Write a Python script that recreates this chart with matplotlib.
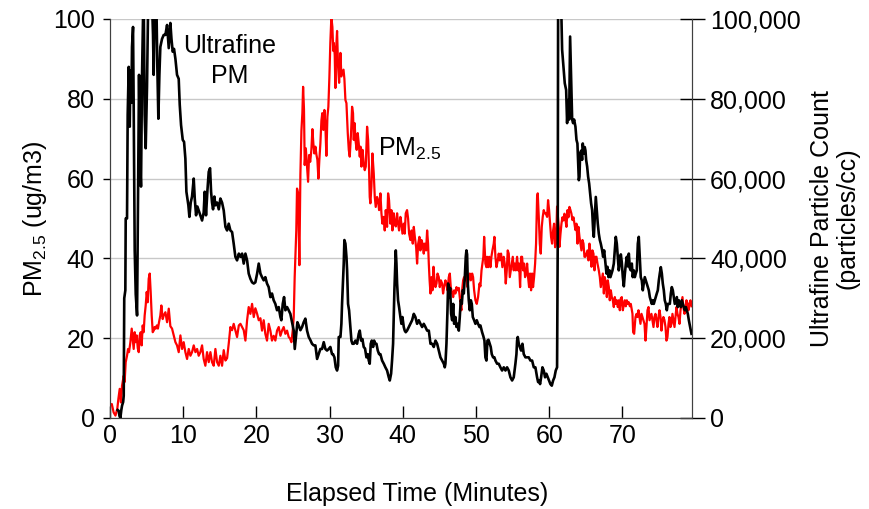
import numpy as np
import matplotlib
matplotlib.use("Agg")
import matplotlib.pyplot as plt

plt.rcParams["font.family"] = ["Liberation Sans", "DejaVu Sans"]
plt.rcParams["mathtext.default"] = "regular"

# PM2.5 (ug/m3)
pm_time = [
    0.0, 0.25, 0.5, 0.75, 1.0, 1.15, 1.33, 1.5, 1.65, 1.88, 2.0, 2.15, 2.33, 2.47, 2.6,
    2.79, 2.97, 3.1, 3.24, 3.38, 3.5, 3.65, 3.8, 3.93, 4.06, 4.2, 4.33, 4.47, 4.6, 4.74,
    4.88, 5.02, 5.15, 5.29, 5.43, 5.56, 5.7, 5.84, 6.0, 6.1, 6.25, 6.4, 6.55, 6.7, 6.88,
    7.02, 7.2, 7.34, 7.57, 7.8, 8.03, 8.25, 8.48, 8.71, 8.94, 9.16, 9.39, 9.62, 9.85, 10.07,
    10.3, 10.53, 10.76, 10.99, 11.21, 11.44, 11.67, 11.9, 12.12, 12.35, 12.58, 12.8, 13.03,
    13.26, 13.49, 13.72, 13.94, 14.17, 14.4, 14.63, 14.86, 15.08, 15.31, 15.54, 15.77, 16.0,
    16.22, 16.45, 16.68, 16.9, 17.13, 17.36, 17.6, 17.82, 18.05, 18.27, 18.5, 18.73, 18.95,
    19.18, 19.41, 19.64, 19.86, 20.1, 20.32, 20.55, 20.77, 21.0, 21.22, 21.45, 21.68, 21.91,
    22.13, 22.36, 22.59, 22.82, 23.05, 23.28, 23.5, 23.73, 23.96, 24.19, 24.41, 24.6, 24.78,
    24.96, 25.1, 25.23, 25.32, 25.45, 25.55, 25.7, 25.87, 26.01, 26.15, 26.28, 26.38, 26.5,
    26.6, 26.75, 26.9, 27.06, 27.2, 27.35, 27.51, 27.65, 27.78, 27.92, 28.06, 28.2, 28.33,
    28.47, 28.6, 28.74, 28.88, 29.0, 29.15, 29.29, 29.42, 29.56, 29.7, 29.83, 29.97, 30.1,
    30.24, 30.38, 30.5, 30.57, 30.7, 30.79, 30.88, 31.02, 31.16, 31.3, 31.48, 31.61, 31.75,
    31.9, 32.02, 32.16, 32.3, 32.48, 32.62, 32.75, 32.93, 33.07, 33.2, 33.3, 33.42, 33.53,
    33.7, 33.84, 33.98, 34.12, 34.22, 34.35, 34.5, 34.66, 34.8, 34.94, 35.12, 35.26, 35.39,
    35.48, 35.57, 35.71, 35.85, 36.03, 36.17, 36.3, 36.48, 36.62, 36.76, 36.94, 37.08, 37.21,
    37.4, 37.53, 37.67, 37.85, 37.99, 38.12, 38.3, 38.44, 38.58, 38.76, 38.9, 39.04, 39.22,
    39.35, 39.49, 39.67, 39.81, 39.95, 40.13, 40.26, 40.4, 40.58, 40.72, 40.86, 41.04, 41.2,
    41.36, 41.5, 41.64, 41.82, 41.95, 42.1, 42.27, 42.4, 42.55, 42.7, 42.86, 43.0, 43.18,
    43.32, 43.45, 43.55, 43.66, 43.78, 43.92, 44.05, 44.19, 44.32, 44.46, 44.6, 44.74, 44.91,
    45.05, 45.2, 45.37, 45.5, 45.64, 45.82, 45.96, 46.1, 46.28, 46.42, 46.55, 46.74, 46.88,
    47.01, 47.19, 47.33, 47.47, 47.65, 47.78, 47.92, 48.01, 48.1, 48.24, 48.37, 48.55, 48.69,
    48.83, 49.01, 49.15, 49.29, 49.47, 49.6, 49.74, 49.92, 50.1, 50.28, 50.47, 50.6, 50.75,
    50.87, 51.0, 51.11, 51.28, 51.42, 51.51, 51.65, 51.8, 51.97, 52.1, 52.24, 52.42, 52.51,
    52.65, 52.79, 52.97, 53.1, 53.24, 53.42, 53.6, 53.78, 53.92, 54.06, 54.2, 54.33, 54.47,
    54.61, 54.75, 54.88, 55.02, 55.15, 55.29, 55.43, 55.61, 55.75, 55.88, 56.02, 56.16, 56.29,
    56.43, 56.57, 56.7, 56.84, 56.98, 57.11, 57.25, 57.38, 57.52, 57.66, 57.79, 57.93, 58.07,
    58.2, 58.34, 58.43, 58.57, 58.71, 58.84, 58.98, 59.11, 59.25, 59.39, 59.52, 59.71, 59.84,
    59.98, 60.12, 60.25, 60.39, 60.53, 60.66, 60.8, 60.94, 61.07, 61.2, 61.3, 61.4, 61.53,
    61.67, 61.8, 61.94, 62.08, 62.22, 62.35, 62.49, 62.62, 62.76, 62.9, 63.03, 63.17, 63.31,
    63.44, 63.58, 63.72, 63.86, 63.99, 64.13, 64.27, 64.4, 64.54, 64.68, 64.81, 64.95, 65.08,
    65.22, 65.36, 65.49, 65.63, 65.77, 65.9, 66.04, 66.18, 66.32, 66.45, 66.59, 66.77, 66.91,
    67.04, 67.18, 67.32, 67.46, 67.59, 67.73, 67.87, 68.0, 68.14, 68.27, 68.41, 68.55, 68.68,
    68.82, 68.96, 69.09, 69.23, 69.37, 69.5, 69.64, 69.78, 69.91, 70.05, 70.2, 70.33, 70.46,
    70.6, 70.74, 70.87, 71.01, 71.14, 71.28, 71.37, 71.46, 71.6, 71.78, 71.92, 72.05, 72.19,
    72.32, 72.46, 72.6, 72.73, 72.87, 73.01, 73.15, 73.28, 73.42, 73.56, 73.7, 73.83, 73.96,
    74.1, 74.24, 74.37, 74.51, 74.65, 74.78, 74.92, 75.06, 75.2, 75.33, 75.47, 75.6, 75.74,
    75.88, 76.01, 76.15, 76.29, 76.42, 76.56, 76.7, 76.83, 76.97, 77.11, 77.24, 77.38, 77.52,
    77.65, 77.79, 77.93, 78.06, 78.2, 78.33, 78.47, 78.61, 78.74, 78.88, 79.02, 79.15, 79.29,
    79.43,
]
pm_vals = [
    3.0, 3.5, 1.4, 0.6, 2.3, 4.8, 7.3, 3.9, 8.1, 10.6, 9.0, 14.0, 15.6, 17.3, 16.5,
    19.0, 22.4, 19.8, 17.3, 21.5, 19.0, 20.7, 17.5, 16.5, 20.7, 21.5, 18.2, 23.2, 21.5, 25.7,
    28.2, 31.6, 29.0, 34.9, 36.2, 31.6, 25.7, 21.5, 22.0, 22.8, 22.4, 23.2, 22.4, 24.0, 25.7,
    28.2, 24.8, 25.7, 26.5, 24.0, 27.4, 23.0, 22.4, 20.7, 19.0, 18.2, 16.5, 20.7, 17.3, 19.0,
    16.5, 14.8, 17.3, 15.6, 16.5, 18.2, 16.5, 17.3, 15.6, 16.5, 18.2, 14.8, 13.1,
    16.5, 14.0, 16.5, 14.0, 13.1, 17.3, 14.0, 13.1, 15.6, 13.1, 17.0, 14.4, 15.0,
    18.6, 22.8, 22.0, 23.6, 22.0, 20.3, 23.2, 23.6, 22.8, 22.0, 19.4, 24.5, 27.8,
    26.1, 28.6, 25.3, 27.5, 26.1, 24.5, 25.0, 21.9, 24.5, 21.1, 19.4, 23.6, 21.9,
    19.4, 20.6, 19.4, 21.9, 22.8, 20.6, 21.9, 22.8, 21.1, 21.9, 20.3, 19.9, 19.0,
    21.9, 25.3, 35.3, 40.4, 47.0, 57.5, 56.3, 38.3, 61.0, 72.0, 76.4, 83.0, 77.4,
    63.4, 67.6, 63.4, 59.2, 65.9, 64.2, 67.2, 72.4, 68.8, 66.3, 68.0, 66.0, 64.7,
    60.0, 64.7, 68.8, 74.5, 76.4, 72.2, 77.2, 73.4, 65.7, 75.5, 78.0, 85.4, 94.0,
    100.5, 98.0, 92.0, 94.0, 91.0, 82.7, 92.0, 97.0, 88.0, 84.0, 91.5, 85.6, 86.4,
    87.3, 85.0, 79.7, 78.9, 71.4, 67.2, 65.5, 71.4, 78.0, 76.4, 69.7, 73.9, 69.7,
    67.2, 71.4, 68.8, 65.5, 68.0, 63.0, 67.2, 63.8, 62.1, 63.0, 73.0, 69.7, 62.1,
    55.4, 53.8, 58.0, 66.3, 61.3, 55.4, 52.9, 55.4, 54.6, 52.1, 56.3, 51.3, 48.7,
    50.4, 47.0, 52.1, 47.9, 56.3, 54.6, 48.7, 52.1, 47.0, 51.3, 48.7, 48.0, 51.3,
    48.7, 47.0, 50.4, 48.7, 46.2, 48.7, 46.2, 51.3, 52.1, 50.0, 46.2, 44.6, 47.0,
    43.7, 47.9, 45.4, 42.8, 38.7, 43.7, 45.4, 42.0, 44.6, 43.7, 41.2, 43.7, 42.0,
    47.0, 43.7, 38.7, 34.5, 31.2, 35.3, 32.0, 37.9, 34.5, 32.8, 33.7, 36.2, 35.3,
    32.8, 34.5, 33.7, 31.2, 32.8, 34.5, 33.7, 32.0, 35.3, 36.2, 32.8, 31.2, 30.3,
    32.0, 31.2, 32.8, 32.0, 32.6, 30.3, 27.8, 27.0, 32.0, 34.5, 35.3, 34.5, 36.2,
    32.8, 35.3, 36.2, 34.5, 36.2, 35.3, 32.0, 29.5, 28.6, 30.3, 33.7, 33.0, 37.0,
    38.7, 40.4, 45.4, 38.7, 37.8, 40.4, 37.8, 40.4, 37.8, 40.4, 42.0, 43.7, 45.4,
    40.4, 37.8, 39.5, 41.2, 39.5, 41.2, 37.8, 40.4, 38.7, 33.7, 37.0, 42.0, 41.2,
    35.3, 37.0, 38.7, 40.4, 37.0, 38.7, 37.0, 40.4, 37.0, 38.7, 32.8, 40.4, 40.4,
    37.0, 38.7, 35.3, 36.2, 38.7, 35.3, 32.8, 36.2, 32.0, 36.2, 32.8, 35.3, 38.7,
    43.7, 55.4, 56.3, 50.4, 43.7, 41.2, 47.9, 50.4, 52.1, 51.3, 51.3, 50.4, 54.6,
    52.1, 48.7, 45.4, 43.7, 47.0, 48.7, 42.8, 44.0, 53.0, 50.0, 47.9, 42.9, 46.0,
    48.7, 50.3, 49.5, 51.2, 49.6, 47.9, 52.1, 50.3, 52.9, 52.1, 51.2, 49.6, 50.3,
    48.7, 47.1, 48.7, 43.7, 47.9, 45.4, 43.7, 42.0, 44.6, 43.7, 40.4, 40.4, 41.2,
    42.0, 39.5, 43.7, 41.2, 37.9, 42.0, 41.2, 37.0, 40.4, 40.4, 38.7, 37.0, 35.3,
    32.8, 34.5, 36.2, 31.2, 35.3, 33.7, 30.3, 34.5, 32.8, 29.5, 32.0, 30.3, 29.5,
    27.8, 30.3, 28.6, 29.5, 27.8, 29.5, 27.0, 30.0, 30.3, 27.0, 28.5, 29.5, 28.0,
    29.5, 28.6, 29.0, 28.0, 28.6, 27.0, 26.1, 21.5, 21.1, 25.3, 26.1, 25.3, 27.0,
    25.3, 23.6, 26.1, 25.3, 24.5, 23.6, 19.4, 22.8, 27.0, 27.8, 24.5, 25.3, 26.1,
    24.5, 22.8, 25.3, 26.1, 24.5, 22.8, 25.3, 27.0, 25.3, 21.9, 24.5, 25.3, 24.5,
    22.8, 19.4, 20.3, 23.6, 25.3, 22.8, 23.6, 26.1, 24.5, 22.8, 25.3, 27.8, 26.1,
    25.3, 23.6, 27.0, 28.6, 30.3, 27.8, 26.1, 27.0, 29.5, 28.6, 27.0, 28.6, 29.5,
    28.0,
]

# Ultrafine particle count, thousands of particles/cc
uf_time = [
    1.05, 1.19, 1.3, 1.42, 1.55, 1.65, 1.8, 1.88, 1.95, 2.1, 2.15, 2.33, 2.42, 2.56, 2.7,
    2.79, 2.92, 3.01, 3.15, 3.24, 3.38, 3.52, 3.7, 3.83, 3.97, 4.11, 4.24, 4.38, 4.52, 4.61,
    4.74, 4.88, 5.06, 5.2, 5.38, 5.52, 5.75, 5.88, 5.97, 6.11, 6.34, 6.47, 6.61, 6.75, 6.88,
    7.11, 7.34, 7.57, 7.8, 8.03, 8.25, 8.4, 8.57, 8.75, 8.94, 9.16, 9.39, 9.53, 9.71, 9.94,
    10.12, 10.3, 10.44, 10.58, 10.71, 10.85, 11.03, 11.21, 11.44, 11.58, 11.76, 11.94, 12.12,
    12.35, 12.58, 12.8, 12.94, 13.12, 13.3, 13.49, 13.67, 13.81, 13.94, 14.08, 14.26, 14.4,
    14.63, 14.86, 15.08, 15.31, 15.54, 15.77, 16.0, 16.22, 16.45, 16.68, 16.9, 17.13, 17.36,
    17.6, 17.82, 18.05, 18.27, 18.5, 18.73, 18.95, 19.18, 19.41, 19.64, 19.86, 20.1, 20.32,
    20.55, 20.77, 21.0, 21.22, 21.45, 21.68, 21.91, 22.13, 22.36, 22.59, 22.82, 23.05, 23.28,
    23.41, 23.6, 23.78, 23.96, 24.19, 24.41, 24.64, 24.87, 25.1, 25.24, 25.4, 25.6, 25.78,
    26.01, 26.24, 26.46, 26.69, 26.92, 27.15, 27.38, 27.6, 27.83, 28.06, 28.29, 28.51, 28.74,
    28.97, 29.2, 29.42, 29.65, 29.88, 30.1, 30.33, 30.47, 30.66, 30.84, 31.02, 31.16, 31.25,
    31.48, 31.61, 31.7, 31.8, 31.93, 32.02, 32.16, 32.3, 32.39, 32.52, 32.66, 32.84, 32.98,
    33.12, 33.3, 33.53, 33.75, 33.98, 34.12, 34.3, 34.48, 34.66, 34.84, 35.03, 35.21, 35.35,
    35.48, 35.62, 35.76, 35.94, 36.08, 36.22, 36.4, 36.58, 36.76, 36.94, 37.17, 37.4, 37.62,
    37.85, 38.08, 38.22, 38.4, 38.53, 38.67, 38.76, 38.85, 38.94, 39.04, 39.13, 39.22, 39.35,
    39.49, 39.67, 39.81, 39.95, 40.13, 40.26, 40.4, 40.58, 40.82, 41.04, 41.27, 41.5, 41.72,
    41.95, 42.18, 42.41, 42.64, 42.86, 43.09, 43.32, 43.55, 43.78, 44.0, 44.23, 44.46, 44.69,
    44.91, 45.14, 45.37, 45.6, 45.73, 45.82, 45.96, 46.1, 46.19, 46.33, 46.46, 46.6, 46.74,
    46.88, 47.01, 47.19, 47.33, 47.47, 47.65, 47.78, 47.92, 48.06, 48.19, 48.33, 48.47, 48.6,
    48.69, 48.78, 48.88, 49.01, 49.15, 49.29, 49.42, 49.56, 49.74, 49.92, 50.1, 50.28, 50.47,
    50.6, 50.83, 51.0, 51.15, 51.28, 51.42, 51.56, 51.7, 51.88, 52.01, 52.15, 52.33, 52.51,
    52.65, 52.88, 53.1, 53.33, 53.56, 53.79, 54.02, 54.24, 54.47, 54.7, 54.93, 55.15, 55.38,
    55.52, 55.61, 55.7, 55.84, 55.98, 56.16, 56.34, 56.52, 56.75, 56.98, 57.2, 57.43, 57.66,
    57.89, 58.11, 58.34, 58.48, 58.61, 58.75, 58.89, 59.07, 59.25, 59.43, 59.61, 59.8, 59.98,
    60.16, 60.35, 60.53, 60.71, 60.89, 61.07, 61.16, 61.21, 61.3, 61.53, 61.67, 61.76, 61.94,
    62.12, 62.31, 62.44, 62.58, 62.72, 62.85, 62.99, 63.13, 63.26, 63.4, 63.58, 63.72, 63.85,
    64.04, 64.13, 64.22, 64.36, 64.49, 64.58, 64.72, 64.85, 64.95, 65.04, 65.18, 65.31, 65.45,
    65.59, 65.72, 65.86, 66.0, 66.09, 66.22, 66.36, 66.5, 66.63, 66.77, 66.91, 67.04, 67.23,
    67.36, 67.5, 67.68, 67.82, 67.95, 68.09, 68.23, 68.36, 68.5, 68.64, 68.82, 68.95, 69.09,
    69.23, 69.37, 69.5, 69.64, 69.78, 69.91, 70.05, 70.19, 70.32, 70.46, 70.6, 70.73, 70.87,
    71.01, 71.14, 71.28, 71.41, 71.55, 71.69, 71.82, 71.96, 72.1, 72.23, 72.37, 72.5, 72.64,
    72.78, 72.91, 73.05, 73.19, 73.32, 73.46, 73.6, 73.74, 73.87, 74.01, 74.15, 74.28, 74.42,
    74.56, 74.69, 74.83, 74.97, 75.1, 75.24, 75.38, 75.51, 75.65, 75.78, 75.92, 76.06, 76.2,
    76.33, 76.47, 76.61, 76.74, 76.88, 77.02, 77.15, 77.29, 77.43, 77.56, 77.7, 77.84, 77.97,
    78.11, 78.25, 78.38, 78.52, 78.66, 78.79, 78.93, 79.07, 79.2, 79.34, 79.43,
]
uf_vals = [
    2.0, 1.8, 0.5, 0.0, 2.0, 3.1, 4.0, 5.6, 30.0, 32.0, 50.0, 50.0, 76.0, 88.0, 73.0,
    87.0, 79.0, 93.0, 98.0, 78.0, 42.0, 31.0, 25.7, 54.0, 86.0, 65.0, 58.0, 86.0, 101.0, 105.0,
    76.0, 67.6, 83.0, 102.0, 110.0, 110.0, 104.0, 96.0, 86.0, 102.0, 104.0, 88.0, 75.0, 86.0, 93.0,
    95.0, 96.0, 96.0, 98.5, 92.7, 99.0, 95.0, 91.8, 92.5, 90.0, 86.0, 85.0, 78.5, 73.4, 69.7,
    69.2, 65.0, 56.7, 55.0, 53.3, 50.4, 54.0, 55.5, 60.0, 55.0, 50.8, 53.0, 52.0,
    50.8, 49.5, 51.5, 56.7, 50.8, 56.7, 61.7, 62.6, 56.7, 54.0, 52.3, 55.5, 53.3,
    54.0, 52.3, 55.0, 54.0, 52.0, 47.9, 47.0, 48.7, 47.0, 46.6, 43.7, 40.4, 39.5,
    41.2, 40.4, 41.2, 38.7, 41.2, 39.5, 36.2, 34.9, 34.0, 33.7, 34.0, 36.2, 38.7,
    36.2, 35.3, 34.5, 35.3, 33.7, 32.8, 30.3, 31.2, 29.5, 28.6, 27.0, 27.8, 25.3,
    24.5, 28.6, 30.3, 27.0, 27.8, 27.0, 26.1, 24.0, 21.9, 17.3, 20.3, 24.0, 23.2,
    22.0, 22.8, 24.0, 24.9, 21.9, 20.3, 19.5, 18.6, 18.2, 18.2, 14.8, 16.0, 17.3,
    17.3, 19.0, 17.3, 16.9, 17.3, 17.8, 16.0, 16.0, 15.2, 12.7, 11.9, 13.1, 20.3,
    20.3, 23.6, 28.6, 33.0, 38.7, 44.6, 43.7, 40.4, 37.0, 28.6, 27.0, 22.8, 19.4,
    18.6, 18.6, 19.4, 18.6, 21.1, 21.9, 19.4, 19.8, 17.8, 17.4, 15.2, 16.0, 14.4,
    13.6, 18.6, 19.4, 17.8, 19.4, 18.6, 18.6, 16.9, 16.0, 16.0, 14.4, 13.6, 12.7,
    11.9, 10.2, 9.4, 11.1, 14.4, 18.6, 25.3, 32.0, 37.0, 42.0, 38.7, 33.7, 29.5,
    27.8, 25.3, 23.6, 25.3, 22.8, 21.9, 21.5, 21.9, 22.8, 23.6, 24.5, 26.1, 25.3,
    23.6, 24.5, 23.6, 22.8, 23.6, 22.8, 21.9, 21.9, 18.6, 18.6, 17.8, 19.4, 18.6,
    16.9, 15.2, 14.4, 13.6, 12.7, 13.6, 18.6, 27.0, 33.7, 30.3, 32.6, 26.1, 24.5,
    28.6, 23.6, 25.3, 22.8, 23.6, 21.9, 25.3, 29.5, 28.6, 32.0, 31.2, 35.3, 40.4,
    42.0, 41.0, 33.7, 29.5, 27.0, 29.5, 28.6, 25.3, 24.5, 23.6, 24.5, 23.6, 22.8,
    23.2, 21.5, 20.5, 19.4, 15.2, 14.4, 19.4, 19.6, 18.6, 17.8, 16.0, 15.2, 15.2,
    14.4, 13.6, 13.6, 12.7, 11.9, 12.7, 11.9, 12.7, 11.9, 10.2, 9.4, 10.2, 13.6,
    16.0, 19.4, 20.3, 18.6, 17.8, 16.9, 18.6, 16.0, 15.2, 15.2, 15.2, 14.4, 14.4,
    12.7, 12.7, 10.2, 9.0, 9.4, 8.5, 10.2, 12.7, 11.9, 10.2, 11.1, 10.2, 9.4,
    8.5, 8.1, 9.4, 10.2, 11.9, 12.7, 43.7, 100.0, 108.0, 108.0, 100.0, 92.3, 88.1,
    83.9, 82.2, 73.9, 79.7, 74.8, 95.6, 85.6, 74.8, 73.9, 74.8, 73.0, 69.7, 68.8,
    59.6, 60.5, 66.3, 67.0, 64.7, 68.8, 66.3, 67.9, 67.0, 64.7, 63.0, 60.5, 58.8,
    56.3, 53.8, 52.1, 47.0, 45.4, 50.3, 55.4, 52.1, 48.7, 46.2, 44.6, 43.7, 42.0,
    40.4, 42.0, 38.7, 36.2, 37.9, 35.3, 37.0, 35.3, 36.2, 37.0, 38.7, 42.0, 45.4,
    43.7, 40.4, 37.0, 38.7, 41.0, 39.0, 35.3, 33.0, 36.0, 38.5, 40.4, 38.0, 41.2,
    37.5, 37.0, 38.7, 35.3, 37.0, 35.3, 36.2, 37.0, 43.7, 45.4, 40.4, 35.3, 34.5,
    32.0, 33.7, 35.3, 34.5, 33.7, 32.8, 32.0, 30.3, 29.5, 28.6, 29.5, 28.6, 29.5,
    30.3, 31.2, 32.0, 34.5, 36.2, 37.8, 36.2, 33.7, 32.0, 29.5, 28.6, 27.0, 28.6,
    28.6, 28.6, 31.2, 32.8, 32.0, 30.3, 28.6, 29.5, 30.3, 27.8, 29.5, 28.6, 27.8,
    29.5, 28.6, 27.8, 27.0, 27.8, 27.0, 26.1, 24.5, 23.2, 21.9, 21.1,
]

fig = plt.figure(figsize=(8.7, 5.09), dpi=100)
ax = fig.add_axes([0.1264, 0.1788, 0.6690, 0.7839])
ax2 = ax.twinx()

ax.plot(pm_time, pm_vals, color="#ff0000", lw=1.6)
ax2.plot(uf_time, np.array(uf_vals) * 1000, color="black", lw=1.9)

ax.set_xlim(0, 79.5)
ax.set_ylim(0, 100)
ax2.set_ylim(0, 100000)

ax.set_yticks(range(0, 101, 20))
ax.set_xticks(range(0, 71, 10))
ax2.set_yticks(range(0, 100001, 20000))
ax2.set_yticklabels([f"{v:,}" for v in range(0, 100001, 20000)])

ax.yaxis.grid(True, color="#c8c8c8", lw=1)
ax.set_axisbelow(True)

fs = 18
ax.tick_params(axis="y", direction="out", length=5, width=1, labelsize=fs, pad=6)
ax.tick_params(axis="x", direction="in", length=9, width=1, labelsize=fs, pad=4)
ax2.tick_params(axis="y", direction="inout", length=18, width=1, labelsize=fs, pad=4)

for a in (ax, ax2):
    for s in a.spines.values():
        s.set_color("#404040")
    a.spines["top"].set_visible(False)

ax.set_xlabel("Elapsed Time (Minutes)", fontsize=fs)
ax.xaxis.set_label_coords(0.528, -0.16)
ax.set_ylabel("PM$_{2.5}$ (ug/m3)", fontsize=fs)
ax.yaxis.set_label_coords(-0.105, 0.5)
ax2.set_ylabel("Ultrafine Particle Count\n(particles/cc)", fontsize=fs, linespacing=1.1)
ax2.yaxis.set_label_coords(1.202, 0.5)

ax.text(16.4, 89.5, "Ultrafine\nPM", fontsize=fs, ha="center", va="center", linespacing=1.3)
ax.text(41.0, 67.5, "PM$_{2.5}$", fontsize=fs, ha="center", va="center")

fig.savefig("out.png", dpi=100)
